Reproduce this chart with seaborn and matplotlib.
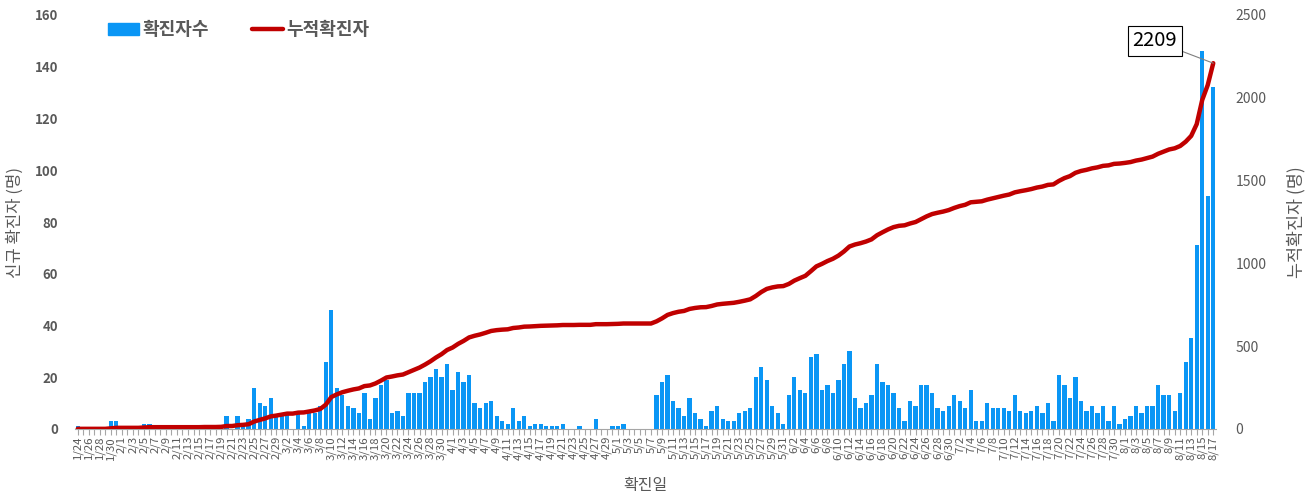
"""
서울 코로나19 일별 확진자수 / 누적확진자 (1/24 ~ 8/17)
"""

import numpy as np
import pandas as pd
import matplotlib
import matplotlib.pyplot as plt
import seaborn as sns
from matplotlib.patches import Patch
from matplotlib.lines import Line2D

plt.switch_backend("Agg")

# 월별 일일 확진자수
jan = [1, 0, 0, 0, 0, 0, 3, 3]
feb = [0, 0, 0, 0, 2, 2, 0, 0, 0, 0, 0, 0, 0, 0, 0, 1, 0, 0, 1, 5,
       0, 5, 2, 4, 16, 10, 9, 12, 5]
mar = [6, 6, 0, 6, 1, 6, 6, 9, 26, 46, 16, 13, 9, 8, 6, 14, 4, 12, 17, 19,
       6, 7, 5, 14, 14, 14, 18, 20, 23, 20, 25]
apr = [15, 22, 18, 21, 10, 8, 10, 11, 5, 3, 2, 8, 3, 5, 1, 2, 2, 1, 1, 1,
       2, 0, 0, 1, 0, 0, 4, 0, 0, 1]
may = [1, 2, 0, 0, 0, 0, 0, 13, 18, 21, 11, 8, 5, 12, 6, 4, 1, 7, 9, 4,
       3, 3, 6, 7, 8, 20, 24, 19, 9, 6, 2]
jun = [13, 20, 15, 14, 28, 29, 15, 17, 14, 19, 25, 30, 12, 8, 10, 13, 25, 18, 17, 14,
       8, 3, 11, 9, 17, 17, 14, 8, 7, 9]
jul = [13, 11, 8, 15, 3, 3, 10, 8, 8, 8, 7, 13, 7, 6, 7, 9, 6, 10, 3, 21,
       17, 12, 20, 11, 7, 9, 6, 9, 3, 9, 2]
aug = [4, 5, 9, 6, 9, 9, 17, 13, 13, 7, 14, 26, 35, 71, 146, 90, 132]

daily = jan + feb + mar + apr + may + jun + jul + aug
dates = pd.date_range("2020-01-24", "2020-08-17")
labels = [f"{d.month}/{d.day}" for d in dates]
cumulative = np.cumsum(daily)
n = len(daily)

BAR_COLOR = "#0A96F5"
LINE_COLOR = "#C00000"
GRAY = "#595959"

sns.set_theme(style="white")
plt.rcParams["font.family"] = ["Noto Sans CJK KR", "DejaVu Sans"]

W, H = 1311, 497
fig = plt.figure(figsize=(W / 100, H / 100), dpi=100)
ax = fig.add_axes([75 / W, 68 / H, 1141 / W, 414 / H])

# 일별 확진자수 막대
sns.barplot(x=labels, y=daily, order=labels, color=BAR_COLOR, saturation=1,
            width=0.78, linewidth=0, ax=ax)
ax.set_ylim(0, 160)
ax.set_yticks(range(0, 161, 20))
ax.set_xlim(-0.5, n - 0.5)

# 누적확진자 선
ax2 = ax.twinx()
sns.lineplot(x=np.arange(n), y=cumulative, color=LINE_COLOR, linewidth=3.2, ax=ax2)
ax2.set_ylim(0, 2500)
ax2.set_yticks(range(0, 2501, 500))
ax2.set_xlim(-0.5, n - 0.5)

for a in (ax, ax2):
    for s in ("top", "left", "right"):
        a.spines[s].set_visible(False)
ax2.spines["bottom"].set_visible(False)
ax.spines["bottom"].set_color("#A6A6A6")
ax.spines["bottom"].set_linewidth(0.8)

# x축 눈금: 매일 눈금, 라벨은 이틀 간격
ax.set_xticks(range(n))
ax.set_xticklabels([l if i % 2 == 0 else "" for i, l in enumerate(labels)],
                   rotation=90, fontsize=8.2, color=GRAY)
ax.tick_params(axis="x", bottom=True, length=4, width=0.8, color="#A6A6A6", pad=1)
ax.tick_params(axis="y", left=False, pad=6, labelsize=9.5, labelcolor=GRAY)
for t in ax.get_yticklabels():
    t.set_fontweight("bold")
ax2.tick_params(axis="y", right=False, pad=8, labelsize=10, labelcolor=GRAY)

ax.set_xlabel("확진일", fontsize=11.5, color=GRAY)
ax.xaxis.set_label_coords(0.5, -0.115)
ax.set_ylabel("신규 확진자 (명)", fontsize=12, color=GRAY)
ax.yaxis.set_label_coords(-0.045, 0.5)
ax2.set_ylabel("누적확진자 (명)", fontsize=12.5, color=GRAY)
ax2.yaxis.set_label_coords(1.062, 0.5)

# 마지막 누적값 라벨
ax2.annotate(f"{cumulative[-1]}", xy=(n - 1, cumulative[-1]), xytext=(-42, 16),
             textcoords="offset points", ha="center", va="center", fontsize=14.5,
             color="black",
             bbox=dict(boxstyle="square,pad=0.22", fc="white", ec="black", lw=0.8),
             arrowprops=dict(arrowstyle="-", color="#7F7F7F", lw=0.8,
                             shrinkA=0, shrinkB=0))

# 범례
handles = [Patch(color=BAR_COLOR), Line2D([], [], color=LINE_COLOR, lw=3.2)]
fig.legend(handles, ["확진자수", "누적확진자"], loc="upper left",
           bbox_to_anchor=(92 / W, 1 - 4 / H), ncol=2, frameon=False,
           prop={"size": 13, "weight": "bold"}, labelcolor=GRAY,
           handlelength=1.7, handletextpad=0.2, columnspacing=2.4)

fig.savefig("out.png", dpi=100)
